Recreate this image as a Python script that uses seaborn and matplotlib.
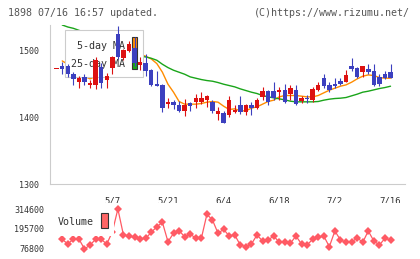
import matplotlib
matplotlib.use("Agg")
import matplotlib.pyplot as plt
from matplotlib.patches import Rectangle
import numpy as np
import seaborn as sns

nan = np.nan

# daily candles (index 0 .. 60)
opens = [1472.5, 1478, 1478, 1466, 1453, 1461, 1449, 1449, 1476, 1457,
         1475, 1526, 1490, 1500, 1505, 1479, 1482, 1471, 1450, 1449,
         1421, 1423, 1419, 1410, 1422, 1423, 1424, 1427, 1424, 1405,
         1407, 1404, 1408, 1419, 1408, 1419, 1414, 1431, 1440, 1440,
         1438, 1441, 1436, 1441, 1425, 1430, 1427, 1442, 1459, 1449,
         1451, 1455, 1454, 1477, 1475, 1469, 1473, 1470, 1461, 1466,
         1468]
closes = [1473, 1473, 1465, 1458, 1460, 1453, 1452, 1487, 1452, 1462,
          1491, 1491, 1501, 1511, 1482, 1484, 1470, 1449, 1448, 1414,
          1423, 1418, 1410, 1418, 1417, 1429, 1430, 1432, 1409, 1409,
          1392, 1426, 1411, 1408, 1419, 1414, 1426, 1440, 1424, 1429,
          1441, 1424, 1444, 1421, 1429, 1428, 1443, 1449, 1447, 1442,
          1447, 1450, 1464, 1473, 1461, 1477, 1468, 1449, 1451, 1460,
          1460]
highs = [1473, 1483, 1480, 1469, 1463, 1466, 1457, 1491, 1482, 1467,
         1492, 1537, 1503, 1515, 1521, 1491, 1495, 1473, 1470, 1450,
         1430, 1427, 1425, 1428, 1423, 1436, 1438, 1434, 1426, 1416,
         1410, 1433, 1419, 1432, 1421, 1424, 1430, 1446, 1441, 1454,
         1446, 1451, 1449, 1449, 1432, 1434, 1446, 1454, 1465, 1454,
         1460, 1459, 1471, 1490, 1476, 1478, 1480, 1480, 1465, 1470,
         1481]
lows = [1472.5, 1465, 1461, 1449, 1445, 1449, 1444, 1443, 1445, 1445,
        1465, 1488, 1486, 1498, 1478, 1471, 1462, 1448, 1447, 1408,
        1414, 1413, 1408, 1402, 1410, 1414, 1421, 1416, 1406, 1396,
        1392, 1400, 1406, 1405, 1404, 1404, 1412, 1427, 1419, 1427,
        1427, 1422, 1427, 1419, 1422, 1422, 1424, 1440, 1445, 1439,
        1445, 1449, 1453, 1470, 1460, 1461, 1465, 1448, 1447, 1458,
        1459]

ma5 = [nan, 1485, 1480, 1470, 1466, 1462, 1458, 1462, 1461, 1461,
       1469, 1477, 1479, 1491, 1495, 1495, 1492, 1488, 1481, 1468,
       1450, 1438, 1424, 1420, 1420, 1420, 1421, 1423, 1424, 1423,
       1417, 1412, 1413, 1410, 1410, 1414, 1416, 1420, 1424, 1426,
       1431, 1433, 1433, 1433, 1432, 1431, 1431, 1433, 1437, 1441,
       1444, 1447, 1449, 1453, 1458, 1462, 1464, 1463, 1460, 1459,
       1459]
ma25 = [nan, 1539, 1536, 1534, 1531, 1528, 1525, 1521, 1517, 1513,
        1509, 1505, 1501, 1498, 1495, 1492, 1491, 1489, 1486, 1480,
        1475, 1471, 1468, 1465, 1461, 1459, 1457, 1455.5, 1454.5, 1452.5,
        1450, 1448, 1446, 1443, 1440.5, 1438, 1436, 1433, 1431, 1429.5,
        1428, 1426.5, 1424.5, 1423.5, 1423.5, 1423.5, 1423.5, 1424, 1426, 1427.5,
        1428.5, 1429, 1430, 1432.5, 1435, 1438, 1439.5, 1441.5, 1443.5, 1445,
        1447]

volume = [nan, 134500, 106500, 136200, 136200, 76800, 100600, 134500, 134500, 106500,
          177900, 314600, 160000, 154100, 146400, 136200, 140400, 176100, 209400, 235500,
          120200, 170100, 185600, 149900, 166000, 140400, 140400, 283100, 249200, 170100,
          193900, 154100, 160000, 100600, 90500, 106500, 160000, 124400, 130300, 154100,
          116600, 120200, 110700, 154100, 106500, 100600, 134500, 146400, 154100, 90500,
          183800, 130300, 116600, 116600, 144000, 116600, 183800, 124400, 100600, 140400,
          130300]

date_pos = [10, 20, 30, 40, 50, 60]
date_labels = ["5/7", "5/21", "6/4", "6/18", "7/2", "7/16"]
price_ticks = [1300, 1400, 1500]
vol_ticks = [76800, 195700, 314600]

RED = "#dd1111"
BLUE = "#3c40bf"
ORANGE = "#ff8c00"
GREEN = "#1aa51a"
VOLC = "#ff5a64"
GRID = "#cccccc"
TXT = "#333333"

sns.set_style("white")
plt.rcParams["font.family"] = ["DejaVu Sans Mono"]

fig = plt.figure(figsize=(4.2, 2.59), dpi=100)
ax = fig.add_axes([50 / 420, 75 / 259, 355 / 420, 159 / 259])
axv = fig.add_axes([50 / 420, 4 / 259, 355 / 420, 52 / 259])

idx = np.arange(len(closes))
o = np.array(opens)
c = np.array(closes)
colors = np.where(c >= o, RED, BLUE)

# moving averages (under the legend box)
sns.lineplot(x=idx, y=ma5, ax=ax, color=ORANGE, lw=1, estimator=None, zorder=1)
sns.lineplot(x=idx, y=ma25, ax=ax, color=GREEN, lw=1, estimator=None, zorder=1)

# legend drawn by hand: text overflows the box like the original
ax.add_patch(Rectangle((0.0423, 0.673), 0.2197, 0.2956, transform=ax.transAxes,
                       fc="white", ec=GRID, lw=0.8, zorder=2))
ax.text(0.2113, 0.868, "5-day MA", transform=ax.transAxes, ha="right", va="center",
        fontsize=7.2, color=TXT, zorder=2.5)
ax.text(0.2113, 0.756, "25-day MA", transform=ax.transAxes, ha="right", va="center",
        fontsize=7.2, color=TXT, zorder=2.5)
ax.add_patch(Rectangle((0.231, 0.824), 0.0141, 0.1006, transform=ax.transAxes,
                       fc=ORANGE, ec=TXT, lw=0.8, zorder=2.5))
ax.add_patch(Rectangle((0.231, 0.7233), 0.0141, 0.1006, transform=ax.transAxes,
                       fc=GREEN, ec=TXT, lw=0.8, zorder=2.5))

# candles
ax.vlines(idx, lows, highs, colors=colors, lw=0.8, zorder=3)
body = np.maximum(np.abs(c - o), 1.2)
ax.bar(idx, body, bottom=np.minimum(o, c), width=0.8, color=colors, lw=0, zorder=4)

ax.set_xlim(-1.2, 62.6)
ax.set_ylim(1300, 1539)
ax.set_xticks(date_pos, date_labels)
ax.set_xticks(np.linspace(-1.2, 62.6, 12), minor=True)
ax.set_yticks(price_ticks)
ax.tick_params(axis="x", which="major", length=0, pad=9, labelsize=6.5, labelcolor=TXT)
ax.tick_params(axis="x", which="minor", length=9, direction="inout", color=GRID, width=0.8)
ax.tick_params(axis="y", length=8, direction="inout", color=GRID, width=0.8,
               labelsize=6, labelcolor=TXT, pad=4)
ax.set_xlabel("")
ax.set_ylabel("")
for s in ["top", "right"]:
    ax.spines[s].set_visible(False)
for s in ["left", "bottom"]:
    ax.spines[s].set_color(GRID)
    ax.spines[s].set_linewidth(0.8)

# volume panel
sns.lineplot(x=idx, y=volume, ax=axv, color=VOLC, lw=0.9, marker="D", markersize=4.2,
             markeredgewidth=0, estimator=None, zorder=2)
axv.add_patch(Rectangle((0.011, 0.375), 0.168, 0.625, transform=axv.transAxes,
                        fc="white", ec="none", zorder=3))
axv.text(0.0225, 0.635, "Volume", transform=axv.transAxes, va="center",
         fontsize=7.2, color=TXT, zorder=4)
axv.add_patch(Rectangle((0.1437, 0.519), 0.0197, 0.289, transform=axv.transAxes,
                        fc="#ff6666", ec=TXT, lw=0.8, zorder=4))
axv.set_xlim(-1.2, 62.6)
axv.set_ylim(41100, 350300)
axv.set_xticks([])
axv.set_yticks(vol_ticks, [str(v) for v in vol_ticks])
axv.tick_params(axis="y", length=0, pad=4, labelsize=6, labelcolor=TXT)
axv.set_xlabel("")
axv.set_ylabel("")
for s in axv.spines.values():
    s.set_visible(False)

fig.text(8 / 420, 1 - 12.5 / 259, "1898 07/16 16:57 updated.", va="center",
         fontsize=7.2, color="#555555")
fig.text(410 / 420, 1 - 12.5 / 259, "(C)https://www.rizumu.net/", va="center", ha="right",
         fontsize=7.2, color="#555555")

fig.savefig("out.png", dpi=100)
